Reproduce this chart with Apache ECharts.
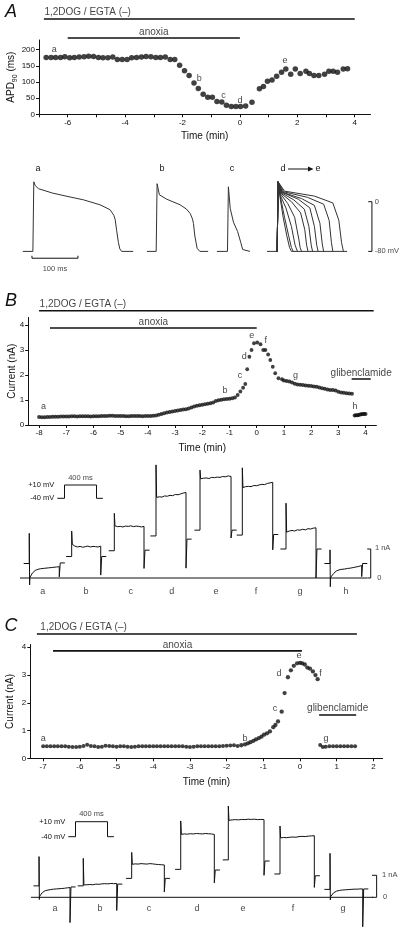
<!DOCTYPE html>
<html><head><meta charset="utf-8">
<script src="https://cdn.jsdelivr.net/npm/echarts@6/dist/echarts.min.js"></script>
<style>html,body{margin:0;padding:0;background:#fff}#c{width:405px;height:936px}</style>
</head><body><div id="c"></div>
<script>
// ================= DATA =================
// ---- Panel A : APD90 vs time ----
const apdTimeA = [-6.75,-6.58,-6.42,-6.25,-6.1,-5.93,-5.77,-5.6,-5.43,-5.27,-5.1,-4.93,-4.77,-4.6,-4.43,-4.27,-4.1,-3.93,-3.77,-3.6,-3.43,-3.27,-3.1,-2.93,-2.77,-2.6,-2.43,-2.27,-2.1,-1.93,-1.77,-1.6,-1.45,-1.28,-1.12,-0.96,-0.8,-0.63,-0.47,-0.3,-0.14,0.02,0.2,0.42,0.68,0.82,0.96,1.12,1.28,1.45,1.6,1.77,1.93,2.1,2.3,2.42,2.58,2.75,2.95,3.1,3.25,3.4,3.6,3.75];
const apdValA  = [176,176,176,176,178,175,176,177,178,180,179,176,175,175,177,170,170,170,175,176,177,179,178,176,176,177,170,170,152,135,120,97,80,62,53,53,40,38,28,24,24,24,26,37,79,86,102,106,118,130,140,124,140,126,133,126,120,120,124,133,133,130,140,141];
const letterA = [['a',-6.47,201],['b',-1.42,111],['c',-0.57,58],['d',0.0,44],['e',1.57,165]];
const drugSpanA = [-6.83, 4.0];
const anoxiaSpanA = [-6, 0];
const xTicksA = [-7,-6,-5,-4,-3,-2,-1,0,1,2,3,4];
const xLabelsA = [-6,-4,-2,0,2,4];
const yTicksA = [0,50,100,150,200];
// action potentials [ms, mV]
const apA = [[6,-80],[28,-80],[30,32],[33,26],[40,21],[70,14],[100,9],[138,3],[174,-5],[196,-13],[204,-22],[207,-29],[210,-46],[214,-66],[217,-76],[221,-80],[246,-80]];
const apB = [[276,-80],[296,-80],[298,29],[303,11],[319,4],[348,-5],[362,-12],[370,-19],[375,-28],[377,-35],[380,-55],[385,-75],[391,-80],[409,-80]];
const apC = [[428,-80],[451,-80],[453,24],[457,-11],[464,-33],[473,-48],[480,-66],[484,-77],[488,-80],[500,-80]];
const apDEbase = [[537,-80],[559,-80]];
const apDEtail = [[590,-80],[711,-80]];
const apDE = [
 [[559,-80],[561,32],[565,8],[572,-25],[580,-55],[586,-74],[590,-80]],
 [[559,-80],[561,32],[566,8],[575,-25],[584,-55],[590,-74],[594,-80]],
 [[559,-80],[561,32],[566,10],[578,-10],[590,-40],[598,-70],[603,-80]],
 [[559,-80],[561,32],[567,12],[582,-3],[597,-25],[606,-60],[609,-74],[612,-80]],
 [[559,-80],[561,32],[568,13],[590,0],[610,-18],[619,-45],[623,-70],[626,-80]],
 [[559,-80],[561,32],[569,14],[595,3],[618,-12],[628,-40],[633,-70],[636,-80]],
 [[559,-80],[561,32],[570,15],[605,4],[630,-10],[640,-40],[645,-70],[648,-80]],
 [[559,-80],[561,32],[571,15],[612,5],[640,-6],[652,-35],[657,-68],[660,-80]],
 [[559,-80],[561,32],[573,16],[625,7],[660,-4],[672,-30],[677,-66],[680,-80]],
 [[559,-80],[561,32],[575,17],[640,9],[680,-2],[693,-30],[699,-66],[703,-80]]
];

// ---- Panel B : current vs time ----
const currentBpre = [[-8.0,0.32],[-7.9,0.31],[-7.8,0.31],[-7.7,0.32],[-7.6,0.32],[-7.5,0.33],[-7.4,0.33],[-7.3,0.33],[-7.2,0.34],[-7.1,0.34],[-7.0,0.34],
 [-6.9,0.34],[-6.8,0.35],[-6.7,0.35],[-6.6,0.34],[-6.5,0.35],[-6.4,0.35],[-6.3,0.35],[-6.2,0.35],[-6.1,0.34],[-6.0,0.35],
 [-5.9,0.35],[-5.8,0.35],[-5.7,0.36],[-5.6,0.36],[-5.5,0.36],[-5.4,0.37],[-5.3,0.37],[-5.2,0.36],[-5.1,0.36],[-5.0,0.36],
 [-4.9,0.36],[-4.8,0.35],[-4.7,0.35],[-4.6,0.36],[-4.5,0.36],[-4.4,0.36],[-4.3,0.36],[-4.2,0.35],[-4.1,0.36],[-4.0,0.36],
 [-3.9,0.36],[-3.8,0.37],[-3.7,0.38],[-3.6,0.41],[-3.5,0.44],[-3.4,0.47],[-3.3,0.5],[-3.2,0.52],[-3.1,0.54],[-3.0,0.56],
 [-2.9,0.58],[-2.8,0.6],[-2.7,0.62],[-2.6,0.63],[-2.5,0.66],[-2.4,0.7],[-2.3,0.74],[-2.2,0.77],[-2.1,0.79],[-2.0,0.81],
 [-1.9,0.83],[-1.8,0.85],[-1.7,0.87],[-1.6,0.9],[-1.5,0.96],[-1.4,0.99],[-1.3,1.01],[-1.2,1.03],[-1.1,1.04],[-1.0,1.05],
 [-0.9,1.07],[-0.8,1.1]];
const currentBrise = [[-0.7,1.2],[-0.6,1.34],[-0.5,1.49],[-0.42,1.64],[-0.35,2.23],[-0.27,2.73],[-0.19,3.0],[-0.1,3.27],[0.02,3.3],[0.14,3.23],[0.24,3.0],[0.32,3.0],[0.42,2.82],[0.5,2.6],[0.59,2.33],[0.68,2.07],[0.8,1.87],[0.93,1.83]];
const currentBpost = [[1.0,1.78],[1.1,1.76],[1.2,1.74],[1.3,1.7],[1.4,1.65],[1.5,1.62],[1.6,1.61],[1.7,1.6],[1.8,1.58],[1.9,1.57],[2.0,1.56],[2.1,1.54],[2.2,1.53],[2.3,1.5],[2.4,1.47],[2.5,1.45],[2.6,1.42],[2.7,1.4],[2.8,1.4],[2.9,1.38],[3.0,1.33],[3.1,1.3],[3.2,1.29],[3.3,1.27],[3.4,1.26],[3.5,1.25]];
const currentBglib = [[3.6,0.38],[3.65,0.39],[3.7,0.39],[3.75,0.4],[3.8,0.42],[3.85,0.43],[3.9,0.44],[3.95,0.44],[4.0,0.44]];
const letterB = [['a',-7.84,0.73],['b',-1.17,1.36],['c',-0.61,1.97],['d',-0.46,2.73],['e',-0.18,3.57],['f',0.33,3.36],['g',1.43,1.97],['h',3.61,0.73]];
const drugSpanB = [-8.0, 4.3];
const anoxiaSpanB = [-7.6, 0];
const glibSpanB = [3.49, 4.19];
const xTicksB = [-8,-7,-6,-5,-4,-3,-2,-1,0,1,2,3,4];
const yTicksB = [0,1,2,3,4];
// B sweeps (display ms, nA)
const sweepNamesB = ['a','b','c','d','e','f','g','h'];
const sweepOnB  = [116,646,1179,1700,2250,2779,3325,3875];
const sweepOffB = [491,1009,1550,2075,2638,3159,3700,4271];
const holdB     = [0.5,0.74,0.94,1.45,1.65,1.48,1.0,0.5];
const peakB     = [1.54,1.62,2.23,3.9,3.72,3.8,2.58,0.97];
const dipB      = [-0.24,null,null,null,null,null,null,-0.3];
const plateauB  = [
 [0.02,0.18,0.26,0.3,0.32,0.33,0.34,0.35,0.36,0.37,0.38,0.39],
 [1.16,1.1,1.07,1.09,1.06,1.08,1.1,1.07,1.09,1.08,1.07,1.1],
 [1.8,1.77,1.78,1.76,1.79,1.78,1.8,1.77,1.79,1.78,1.76,1.78],
 [2.78,2.8,2.79,2.83,2.82,2.85,2.84,2.88,2.87,2.9,2.93,2.95],
 [3.42,3.44,3.45,3.43,3.47,3.46,3.48,3.47,3.5,3.49,3.52,3.5],
 [3.12,3.15,3.16,3.15,3.19,3.18,3.21,3.23,3.22,3.26,3.28,3.3],
 [1.58,1.62,1.64,1.62,1.66,1.65,1.68,1.66,1.7,1.69,1.72,1.73],
 [0.02,0.15,0.24,0.28,0.3,0.31,0.33,0.34,0.36,0.38,0.4,0.43]];
const offDipB   = [0.04,0.1,0.33,0.34,1.38,0.97,0.0,0.05];
const postB     = [0.52,0.74,0.96,1.34,1.65,1.5,1.0,0.5];
const sweepLabelXB = [284,825,1384,1896,2450,2950,3500,4075];
const zeroLineB = [[0,0],[4337,0]];

// ---- Panel C ----
const currentCpre = [[-7.0,0.43],[-6.9,0.43],[-6.8,0.43],[-6.7,0.43],[-6.6,0.43],[-6.5,0.43],[-6.4,0.43],[-6.3,0.42],[-6.2,0.41],[-6.1,0.41],[-6.0,0.42],[-5.9,0.44],[-5.8,0.49],[-5.7,0.44],[-5.6,0.43],[-5.5,0.41],[-5.4,0.42],[-5.3,0.45],[-5.2,0.44],[-5.1,0.43],[-5.0,0.42],[-4.9,0.43],[-4.8,0.43],[-4.7,0.42],[-4.6,0.41],[-4.5,0.42],[-4.4,0.43],[-4.3,0.43],[-4.2,0.43],[-4.1,0.43],[-4.0,0.43],[-3.9,0.43],[-3.8,0.43],[-3.7,0.43],[-3.6,0.43],[-3.5,0.43],[-3.4,0.43],[-3.3,0.43],[-3.2,0.43],[-3.1,0.42],[-3.0,0.41],[-2.9,0.42],[-2.8,0.43],[-2.7,0.43],[-2.6,0.43],[-2.5,0.43],[-2.4,0.43],[-2.3,0.43],[-2.2,0.43],[-2.1,0.44],[-2.0,0.45],[-1.9,0.46],[-1.8,0.47],[-1.7,0.44]];
const currentCrise = [[-1.6,0.47],[-1.5,0.5],[-1.42,0.54],[-1.35,0.58],[-1.27,0.63],[-1.2,0.68],[-1.12,0.73],[-1.05,0.78],[-0.98,0.85],[-0.9,0.9],[-0.82,0.97],[-0.73,1.12],[-0.67,1.2],[-0.6,1.33],[-0.5,1.68],[-0.42,2.35],[-0.33,2.92],[-0.25,3.17],[-0.17,3.33],[-0.08,3.42],[0.0,3.44],[0.06,3.42],[0.13,3.38],[0.2,3.27],[0.27,3.23],[0.35,3.13],[0.42,3.0],[0.48,2.85]];
const currentCglib = [[0.55,0.48],[0.62,0.41],[0.7,0.42],[0.8,0.43],[0.9,0.43],[1.0,0.43],[1.1,0.43],[1.2,0.43],[1.3,0.43],[1.4,0.43],[1.5,0.43]];
const letterC = [['a',-7.0,0.7],['b',-1.5,0.72],['c',-0.68,1.78],['d',-0.57,3.07],['e',-0.03,3.7],['f',0.56,3.04],['g',0.71,0.7]];
const drugSpanC = [-7.17, 1.55];
const anoxiaSpanC = [-6.73, 0.05];
const glibSpanC = [0.52, 1.53];
const xTicksC = [-7,-6,-5,-4,-3,-2,-1,0,1,2];
const yTicksC = [0,1,2,3,4];
const sweepNamesC = ['a','b','c','d','e','f','g'];
const sweepOnC  = [238,791,1396,2009,2604,3250,3875];
const sweepOffC = [625,1209,1804,2429,3050,3679,4284];
const holdC     = [0.52,0.52,0.86,1.27,1.7,1.06,0.36];
const peakC     = [1.85,1.77,2.04,3.47,4.15,3.24,2.0];
const dipC      = [-0.1,null,null,null,null,null,-0.12];
const plateauC  = [
 [0.05,0.22,0.3,0.33,0.35,0.37,0.38,0.39,0.4,0.41,0.43,0.44],
 [0.56,0.57,0.58,0.57,0.6,0.59,0.61,0.62,0.61,0.63,0.62,0.63],
 [1.5,1.52,1.51,1.53,1.52,1.51,1.53,1.52,1.5,1.49,1.48,1.47],
 [2.86,2.88,2.87,2.89,2.88,2.9,2.89,2.88,2.9,2.89,2.88,2.86],
 [3.5,3.52,3.53,3.52,3.54,3.53,3.55,3.54,3.55,3.53,3.54,3.53],
 [2.7,2.72,2.71,2.73,2.74,2.73,2.76,2.77,2.76,2.78,2.79,2.8],
 [0.03,0.2,0.28,0.31,0.33,0.34,0.35,0.36,0.37,0.37,0.38,0.38]];
const offDipC   = [-1.15,-0.6,0.25,0.66,1.0,0.45,-1.34];
const postC     = [0.47,0.6,0.86,1.24,1.65,0.98,0.38];
const sweepLabelXC = [438,1000,1613,2213,2788,3413,4038];
const zeroLineC = [[137,0],[4412,0]];

// voltage protocol (ms, mV)
const protocol = [[0,-40],[90,-40],[90,10],[490,10],[490,-40],[570,-40]];

// ================= BUILD =================
const FONT = "'Liberation Sans', Arial, sans-serif";
const INK = '#111';
const grids=[], xAxes=[], yAxes=[], series=[];

function hid(min,max){return {type:'value',min,max,show:false,splitLine:{show:false},axisLine:{show:false},axisTick:{show:false},axisLabel:{show:false}};}
function addGrid(g,xa,ya){const i=grids.length;grids.push(Object.assign({containLabel:false,outerBoundsMode:'none'},g));xAxes.push(Object.assign({gridIndex:i},xa));yAxes.push(Object.assign({gridIndex:i},ya));return i;}
function visX(min,max,ticks,labels,gap){return {type:'value',min,max,
  axisLine:{show:true,onZero:false,lineStyle:{color:INK,width:1}},
  axisTick:{show:true,customValues:ticks,length:3,lineStyle:{color:INK,width:1}},
  axisLabel:{show:true,customValues:labels,fontSize:8,margin:4,color:INK,fontFamily:FONT,hideOverlap:false},
  splitLine:{show:false},name:'Time (min)',nameLocation:'middle',nameGap:gap,nameMoveOverlap:false,
  nameTextStyle:{fontSize:10,color:INK,fontFamily:FONT}};}
function visY(min,max,ticks,name,gap,rich){return {type:'value',min,max,
  axisLine:{show:true,onZero:false,lineStyle:{color:INK,width:1}},
  axisTick:{show:true,customValues:ticks,length:3,lineStyle:{color:INK,width:1}},
  axisLabel:{show:true,customValues:ticks,fontSize:8,margin:4,color:INK,fontFamily:FONT,hideOverlap:false},
  splitLine:{show:false},name,nameLocation:'middle',nameGap:gap,nameRotate:90,nameMoveOverlap:false,
  nameTextStyle:Object.assign({fontSize:10,color:INK,fontFamily:FONT},rich?{rich}:{})};}

function line(gi,data,opt){series.push(Object.assign({type:'line',xAxisIndex:gi,yAxisIndex:gi,data,symbol:'none',showSymbol:false,
  clip:false,silent:true,animation:false,lineStyle:{color:INK,width:1}},opt||{}));}
function dots(gi,data,size){series.push({type:'scatter',xAxisIndex:gi,yAxisIndex:gi,data,symbolSize:size,silent:true,animation:false,
  itemStyle:{color:INK}});}
function texts(gi,items,opt){ // items [text,x,y]
  const o=opt||{};
  series.push({type:'scatter',xAxisIndex:gi,yAxisIndex:gi,silent:true,animation:false,symbolSize:1,
    itemStyle:{color:'rgba(0,0,0,0)'},data:items.map(t=>[t[1],t[2],t[0]]),
    label:{show:true,formatter:p=>p.data[2],position:o.position||'inside',distance:o.distance||0,
      color:INK,fontSize:o.fontSize||9,fontFamily:FONT,align:o.align}});}
function span(gi,s,level){line(gi,[[s[0],level],[s[1],level]],{lineStyle:{color:INK,width:1.6}});}
function sweep(on,off,hold,peak,dip,plat,offDip,post){
  const pts=[[on-70,hold],[on,hold],[on,peak]];
  if(dip!==null) pts.push([on+4,dip]);
  const n=plat.length;
  plat.forEach((v,i)=>pts.push([on+8+(off-on-8)*i/(n-1),v]));
  pts.push([off,offDip],[off+12,post],[off+70,post]);
  return pts;
}

// ---------- Panel A ----------
const gAh = addGrid({left:39,top:5,width:331.5,height:35},hid(-7,4.55),hid(0,35));
span(gAh,drugSpanA,21); span(gAh,anoxiaSpanA,2);
texts(gAh,[['1,2DOG / EGTA (–)',drugSpanA[0],28]],{position:'right',fontSize:10});
texts(gAh,[['anoxia',(anoxiaSpanA[0]+anoxiaSpanA[1])/2,8]],{fontSize:10});

const gA = addGrid({left:39,top:40,width:331.5,height:74.3},visX(-7,4.55,xTicksA,xLabelsA,17),
  visY(0,230,yTicksA,'APD{sub|90} (ms)',20.5,{sub:{fontSize:7,fontFamily:FONT,color:INK,verticalAlign:'bottom',lineHeight:14}}));
dots(gA,apdTimeA.map((t,i)=>[t,apdValA[i]]),5.5);
texts(gA,letterA);

const gAt = addGrid({left:20,top:175.6,width:380,height:99.4},hid(0,826),hid(-118,42));
[apA,apB,apC,apDEbase,apDEtail].forEach(d=>line(gAt,d,{lineStyle:{color:'#333',width:1}}));
apDE.forEach(d=>line(gAt,d,{lineStyle:{color:'#333',width:1}}));
line(gAt,[[757,0],[765,0],[765,-80],[757,-80]]);
line(gAt,[[26,-87],[26,-91],[126,-91],[126,-87]]);
texts(gAt,[['0',770,0],['-80 mV',770,-80]],{position:'right',fontSize:7.5});
texts(gAt,[['100 ms',76,-108]],{fontSize:7.5});

// ---------- Panel B ----------
const gBh = addGrid({left:28.2,top:295,width:348.2,height:22.5},hid(-8.4,4.4),hid(0,22.5));
span(gBh,drugSpanB,6.8);
texts(gBh,[['1,2DOG / EGTA (–)',drugSpanB[0],13.5]],{position:'right',fontSize:10});

const gB = addGrid({left:28.2,top:317.5,width:348.2,height:107.5},visX(-8.4,4.4,xTicksB,xTicksB,18),
  visY(0,4.3,yTicksB,'Current (nA)',10.7));
span(gB,anoxiaSpanB,3.88);
texts(gB,[['anoxia',(anoxiaSpanB[0]+anoxiaSpanB[1])/2,4.13]],{fontSize:10});
span(gB,glibSpanB,1.84);
texts(gB,[['glibenclamide',(glibSpanB[0]+glibSpanB[1])/2,2.07]],{fontSize:10});
dots(gB,currentBpre,4); dots(gB,currentBrise,3.8); dots(gB,currentBpost,4); dots(gB,currentBglib,4);
texts(gB,letterB);

const gBt = addGrid({left:20,top:453.3,width:380,height:147.9},hid(0,4750),hid(-0.8,4.3));
line(gBt,zeroLineB);
sweepOnB.forEach((on,i)=>line(gBt,sweep(on,sweepOffB[i],holdB[i],peakB[i],dipB[i],plateauB[i],offDipB[i],postB[i])));
line(gBt,[[4340,1],[4384,1],[4384,0],[4340,0]]);
texts(gBt,[['1 nA',4430,1.02],['0',4460,0]],{position:'right',fontSize:7.5});
texts(gBt,sweepNamesB.map((n,i)=>[n,sweepLabelXB[i],-0.48]));

const gBp = addGrid({left:57.3,top:485,width:45.6,height:13.3},
  {type:'value',min:0,max:570,show:false},
  {type:'value',min:-40,max:10,axisLine:{show:false},axisTick:{show:false},splitLine:{show:false},
   axisLabel:{show:true,customValues:[-40,10],formatter:v=>(v>0?'+':'')+v+' mV',fontSize:7.5,color:INK,fontFamily:FONT,margin:3}});
line(gBp,protocol);
texts(gBp,[['400 ms',290,10]],{position:'top',distance:3,fontSize:7.5});

// ---------- Panel C ----------
const gCh = addGrid({left:30.3,top:618,width:352.3,height:26.5},hid(-7.35,2.25),hid(0,26.5));
span(gCh,drugSpanC,10.5);
texts(gCh,[['1,2DOG / EGTA (–)',drugSpanC[0]+0.08,17.5]],{position:'right',fontSize:10});

const gC = addGrid({left:30.3,top:644.5,width:352.3,height:113.8},visX(-7.35,2.25,xTicksC,xTicksC,18.5),
  visY(0,4.1,yTicksC,'Current (nA)',14.8));
span(gC,anoxiaSpanC,3.87);
texts(gC,[['anoxia',(anoxiaSpanC[0]+anoxiaSpanC[1])/2,4.07]],{fontSize:10});
span(gC,glibSpanC,1.56);
texts(gC,[['glibenclamide',(glibSpanC[0]+glibSpanC[1])/2,1.8]],{fontSize:10});
dots(gC,currentCpre,4); dots(gC,currentCrise,4.3); dots(gC,currentCglib,4);
texts(gC,letterC);

const gCt = addGrid({left:20,top:802.7,width:380,height:127.6},hid(0,4750),hid(-1.5,4.3));
line(gCt,zeroLineC);
sweepOnC.forEach((on,i)=>line(gCt,sweep(on,sweepOffC[i],holdC[i],peakC[i],dipC[i],plateauC[i],offDipC[i],postC[i])));
line(gCt,[[4400,1],[4458,1],[4458,0],[4400,0]]);
texts(gCt,[['1 nA',4520,1.02],['0',4530,0]],{position:'right',fontSize:7.5});
texts(gCt,sweepNamesC.map((n,i)=>[n,sweepLabelXC[i],-0.49]));

const gCp = addGrid({left:68.3,top:821.7,width:45.6,height:15},
  {type:'value',min:0,max:570,show:false},
  {type:'value',min:-40,max:10,axisLine:{show:false},axisTick:{show:false},splitLine:{show:false},
   axisLabel:{show:true,customValues:[-40,10],formatter:v=>(v>0?'+':'')+v+' mV',fontSize:7.5,color:INK,fontFamily:FONT,margin:3}});
line(gCp,protocol);
texts(gCp,[['400 ms',290,10]],{position:'top',distance:3,fontSize:7.5});

// ---------- graphic labels ----------
const T = (text,x,y,size,extra)=>Object.assign({type:'text',x,y,silent:true,
  style:Object.assign({text,fontSize:size,fontFamily:FONT,fill:INK,textAlign:'center',textVerticalAlign:'middle'},extra||{})});
const graphic = [
  T('A',11,12,18,{fontStyle:'italic'}),
  T('B',11,301,18,{fontStyle:'italic'}),
  T('C',11,626,18,{fontStyle:'italic'}),
  T('a',38,169,9), T('b',162,169,9), T('c',232,169,9), T('d',283,169,9), T('e',318,169,9),
  {type:'line',silent:true,shape:{x1:288,y1:169,x2:309,y2:169},style:{stroke:INK,lineWidth:1}},
  {type:'polygon',silent:true,shape:{points:[[308,166.5],[313.5,169],[308,171.5]]},style:{fill:INK}}
];

const chart = echarts.init(document.getElementById('c'),null,{renderer:'canvas'});
chart.setOption({animation:false,backgroundColor:'#fff',grid:grids,xAxis:xAxes,yAxis:yAxes,series,graphic});
</script></body></html>
